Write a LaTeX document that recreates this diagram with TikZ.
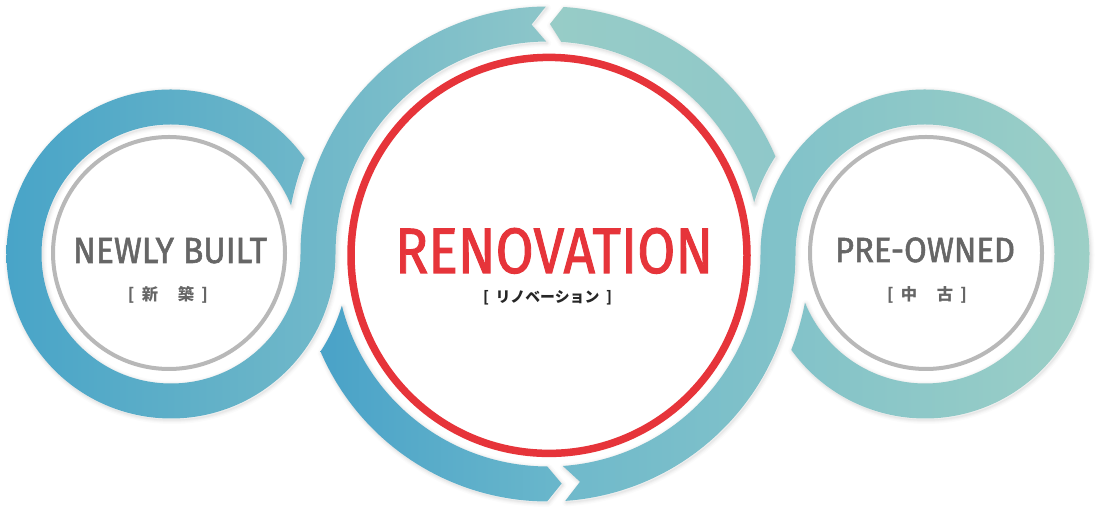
\documentclass[tikz,border=0pt]{standalone}
\usepackage{fontspec}
\usepackage{graphicx}
\setmainfont{Fira Sans}
\newfontfamily\medf[FakeBold=1.6]{Fira Sans}
\newfontfamily\jp{Noto Sans CJK JP}
\definecolor{redc}{HTML}{E6343A}
\definecolor{grayt}{HTML}{666666}
\definecolor{grayc}{HTML}{B8B8B8}
\definecolor{aL}{HTML}{48A4C8}
\definecolor{aR}{HTML}{8DC6C9}
\definecolor{bL}{HTML}{49A2C8}
\definecolor{bR}{HTML}{6AB7CB}
\definecolor{cL}{HTML}{6FB9CB}
\definecolor{cR}{HTML}{9CCFC6}
\definecolor{dL}{HTML}{97CCC7}
\definecolor{dR}{HTML}{8FC8C9}
\begin{document}
\begin{tikzpicture}[x=1pt,y=1pt,
  ringlabel/.style={text=grayt,inner sep=0pt,anchor=base,font=\medf},
  jplabel/.style={inner sep=0pt},
  graycircle/.style={draw=grayc,line width=4pt},
  shadowline/.style={black,line join=round,shift={(1,-1.5)}}]
\useasboundingbox (0,0) rectangle (1100,513);
\fill[white] (0,0) rectangle (1100,513);
\coordinate (CL) at (171,259);
\coordinate (CB) at (548,259);
\coordinate (CR) at (925,259);
\coordinate (CRed) at (549,257.6);
\coordinate (GL) at (169,260);
\coordinate (GR) at (926,260);
% strip paths
\def\pathAone{([shift={(CB)}]180:247.5) arc[start angle=180, end angle=90.5, radius=247.5] -- ([shift={(CB)}]94.1:230) -- ([shift={(CB)}]90.5:212.5) arc[start angle=90.5, end angle=180, radius=212.5] -- cycle}
\def\pathAtwo{([shift={(CL)}]35.6:164.5) arc[start angle=35.6, end angle=360, radius=164.5] -- ([shift={(CL)}]0:129.5) arc[start angle=360, end angle=22, radius=129.5] -- ([shift={(CB)}]169.3:261.5) arc[start angle=169.3, end angle=158.5, radius=261.5] -- cycle}
\def\pathB{([shift={(CB)}]203.2:247.5) arc[start angle=203.2, end angle=269.8, radius=247.5] -- ([shift={(CB)}]273.4:230) -- ([shift={(CB)}]269.8:212.5) arc[start angle=269.8, end angle=194.1, radius=212.5] -- ([shift={(CL)}]-16.85:178.5) arc[start angle=-16.85, end angle=-33.11, radius=178.5] -- cycle}
\def\pathCone{([shift={(CB)}]274:247.5) arc[start angle=274, end angle=360, radius=247.5] -- ([shift={(CB)}]0:212.5) arc[start angle=360, end angle=274, radius=212.5] -- ([shift={(CB)}]278:230) -- cycle}
\def\pathCtwo{([shift={(CR)}]215.6:164.5) arc[start angle=215.6, end angle=540, radius=164.5] -- ([shift={(CR)}]180:129.5) arc[start angle=540, end angle=202, radius=129.5] -- ([shift={(CB)}]349.3:261.5) arc[start angle=349.3, end angle=338.5, radius=261.5] -- cycle}
\def\pathD{([shift={(CB)}]23.2:247.5) arc[start angle=23.2, end angle=86.4, radius=247.5] -- ([shift={(CB)}]89.5:230) -- ([shift={(CB)}]86.4:212.5) arc[start angle=86.4, end angle=14.1, radius=212.5] -- ([shift={(CR)}]163.15:178.5) arc[start angle=163.15, end angle=146.89, radius=178.5] -- cycle}
% soft shadows
\foreach \w/\o in {8/0.015,5.5/0.02,3.5/0.025,1.5/0.03}{
  \draw[shadowline,line width=\w pt,opacity=\o] \pathAone \pathAtwo;
  \draw[shadowline,line width=\w pt,opacity=\o] \pathB;
  \draw[shadowline,line width=\w pt,opacity=\o] \pathCone \pathCtwo;
  \draw[shadowline,line width=\w pt,opacity=\o] \pathD;
}
% strip A
\begin{scope}
\clip \pathAone \pathAtwo;
\shade[left color=aL,right color=aR] (6,0) rectangle (548,513);
\end{scope}
% strip B
\begin{scope}
\clip \pathB;
\shade[left color=bL,right color=bR] (318,0) rectangle (563,513);
\end{scope}
% strip C
\begin{scope}
\clip \pathCone \pathCtwo;
\shade[left color=cL,right color=cR] (562,0) rectangle (1090,513);
\end{scope}
% strip D
\begin{scope}
\clip \pathD;
\shade[left color=dL,right color=dR] (548,0) rectangle (778,513);
\end{scope}
% inner circles
\draw[graycircle] (GL) circle[radius=116];
\draw[graycircle] (GR) circle[radius=116];
\draw[draw=redc,line width=7.5pt] (CRed) circle[radius=198];
% texts
\node[ringlabel] (nb) at (170,250) {\resizebox{194pt}{25pt}{NEWLY BUILT}};
\node[jplabel,text=grayt] (nbj) at (168,218.5) {\resizebox{80pt}{!}{\jp\bfseries [\hspace{0.45em}新\hspace{1.2em}築\hspace{0.45em}]}};
\node[ringlabel,text=redc] (ren) at (554,240) {\resizebox{318pt}{45pt}{RENOVATION}};
\node[jplabel,text=black!85] (renj) at (547.5,215.5) {\resizebox{129pt}{!}{\jp\bfseries [\hspace{0.45em}リノベーション\hspace{0.45em}]}};
\node[ringlabel] (po) at (925,251) {\resizebox{180pt}{24.5pt}{PRE-OWNED}};
\node[jplabel,text=grayt] (poj) at (927,218) {\resizebox{80pt}{!}{\jp\bfseries [\hspace{0.45em}中\hspace{1.2em}古\hspace{0.45em}]}};
\end{tikzpicture}
\end{document}
